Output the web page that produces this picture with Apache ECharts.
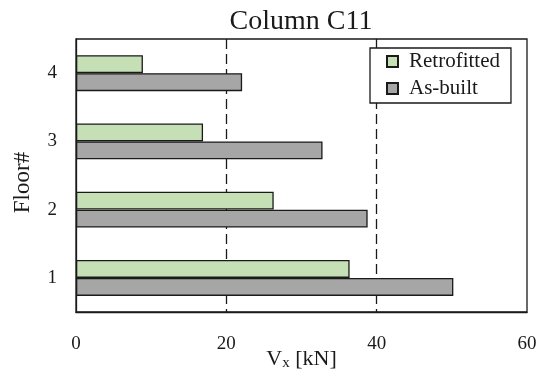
<!DOCTYPE html>
<html>
<head>
<meta charset="utf-8">
<script src="https://cdn.jsdelivr.net/npm/echarts@6/dist/echarts.min.js"></script>
<style>html,body{margin:0;padding:0;background:#fff}#c{width:550px;height:382px}</style>
</head>
<body>
<div id="c"></div>
<script>
var floors = ['1', '2', '3', '4'];
var retrofitted = [36.4, 26.3, 16.9, 8.9];
var asBuilt = [50.2, 38.8, 32.8, 22.1];
var xTicks = [0, 20, 40, 60];

var FONT = 'Liberation Serif';
var chart = echarts.init(document.getElementById('c'), null, {renderer: 'canvas'});
chart.setOption({
  animation: false,
  backgroundColor: '#ffffff',
  title: {
    text: 'Column C11',
    left: 296, textAlign: 'center', top: 3,
    textStyle: {fontFamily: FONT, fontSize: 28, fontWeight: 'normal', color: '#1a1a1a'}
  },
  legend: {
    data: ['Retrofitted', 'As-built'],
    orient: 'vertical',
    left: 370, top: 48,
    padding: [3, 11, 4, 16],
    itemWidth: 11, itemHeight: 11, itemGap: 6,
    icon: 'rect',
    backgroundColor: '#ffffff',
    borderColor: '#1a1a1a', borderWidth: 1.3,
    textStyle: {fontFamily: FONT, fontSize: 21, color: '#1a1a1a', lineHeight: 20, padding: [0, 0, 0, 6]}
  },
  grid: {
    left: 76, right: 23, top: 39, bottom: 70,
    containLabel: false, outerBoundsMode: 'none',
    show: true, borderColor: '#1a1a1a', borderWidth: 1.3, backgroundColor: 'transparent'
  },
  xAxis: {
    type: 'value', min: xTicks[0], max: xTicks[xTicks.length - 1], interval: 20,
    axisLine: {show: true, lineStyle: {color: '#1a1a1a', width: 1.3}},
    axisTick: {show: false},
    axisLabel: {fontFamily: FONT, fontSize: 19, color: '#1a1a1a', margin: 23},
    splitLine: {show: true, lineStyle: {color: ['transparent', '#1a1a1a', '#1a1a1a', 'transparent'], type: [10, 5], width: 1.3}},
    name: 'V{sub|x} [kN]',
    nameLocation: 'middle', nameGap: 35, nameMoveOverlap: false,
    nameTextStyle: {
      fontFamily: FONT, fontSize: 22, color: '#1a1a1a',
      rich: {sub: {fontFamily: FONT, fontSize: 15, color: '#1a1a1a', verticalAlign: 'bottom', padding: [9, 0, 0, 0]}}
    }
  },
  yAxis: {
    type: 'category', data: floors,
    axisLine: {show: true, lineStyle: {color: '#1a1a1a', width: 1.3}},
    axisTick: {show: false},
    axisLabel: {fontFamily: FONT, fontSize: 19, color: '#1a1a1a', margin: 19},
    splitLine: {show: false},
    name: 'Floor#', nameLocation: 'middle', nameGap: 42, nameMoveOverlap: false,
    nameTextStyle: {fontFamily: FONT, fontSize: 23, color: '#1a1a1a', padding: [0, 14, 0, 0]}
  },
  series: [
    {
      name: 'Retrofitted', type: 'bar', data: retrofitted,
      barWidth: 18, barGap: '0%',
      itemStyle: {color: '#c5e0b4', borderColor: '#1a1a1a', borderWidth: 1.3}
    },
    {
      name: 'As-built', type: 'bar', data: asBuilt,
      barWidth: 18, barGap: '0%',
      itemStyle: {color: '#a6a6a6', borderColor: '#1a1a1a', borderWidth: 1.3}
    }
  ]
});
</script>
</body>
</html>
